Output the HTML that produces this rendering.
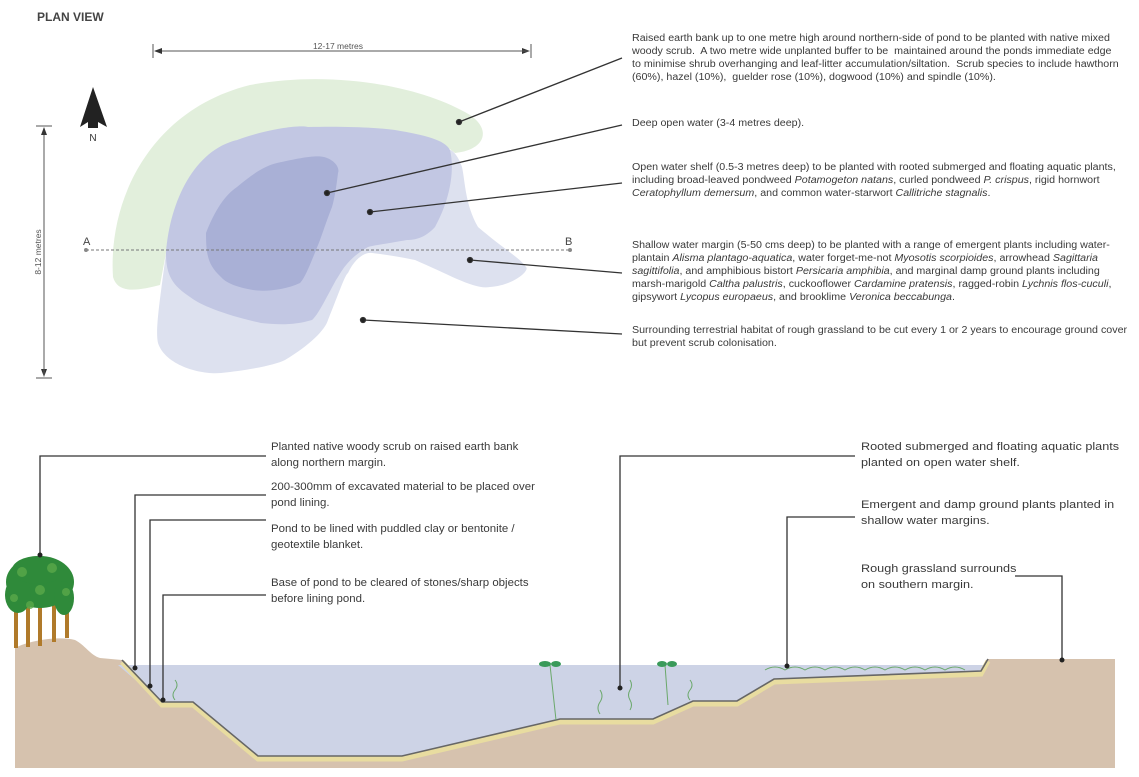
<!DOCTYPE html>
<html><head><meta charset="utf-8"><style>
body{margin:0;width:1139px;height:777px;background:#fff;position:relative;overflow:hidden;font-family:"Liberation Sans",Arial,sans-serif;color:#333}
.t{position:absolute;font-size:9.8px;line-height:12.9px;white-space:nowrap;color:#3a3a3a;transform:scaleX(1.09);transform-origin:0 0}
.s{position:absolute;font-size:11px;line-height:15.5px;white-space:nowrap;color:#3a3a3a;transform:scaleX(1.04);transform-origin:0 0}
.r{transform:scaleX(1.15)}
svg{position:absolute;left:0;top:0}
</style></head><body>
<svg width="1139" height="777" viewBox="0 0 1139 777">
<defs><marker id="ar" markerWidth="8" markerHeight="8" refX="7" refY="4" orient="auto"><path d="M0,1 L8,4 L0,7z" fill="#333"/></marker></defs>
<path d="M113,277 C108,200 150,110 250,85 C330,70 420,85 470,115 C492,130 485,150 455,153 L447,147 C400,125 300,120 237,140 C190,160 170,210 166,253 L160,285 C140,290 118,295 113,277Z" fill="#e2efdc"/>
<path d="M166,253 C160,300 155,330 158,343 C165,365 200,375 221,373 C250,370 275,365 285,360 C310,345 325,330 328,320 C340,290 345,275 348,273 C355,258 365,252 372,253 C390,255 405,258 415,260 C450,275 475,290 490,287 C515,285 530,270 526,267 C520,258 505,250 478,227 C465,205 465,180 462,167 C458,155 452,150 450,150 Z" fill="#dde1ef"/>
<path d="M166,253 C170,200 195,150 237,140 C270,128 300,125 308,127 C350,126 380,128 395,130 C425,135 445,140 450,150 C455,170 450,200 435,227 C425,238 415,240 407,240 C385,244 375,245 368,247 C345,260 340,275 336,280 C325,300 318,315 312,320 C295,325 280,325 261,323 C225,315 200,305 190,297 C172,285 166,275 166,253Z" fill="#c2c7e3"/>
<path d="M206,233 C215,210 225,195 237,187 C255,172 265,166 277,163 C300,158 315,155 324,157 C335,160 340,168 338,173 C336,190 334,200 332,207 C325,225 322,235 320,240 C310,265 305,278 300,283 C285,290 265,292 253,290 C235,287 225,282 221,277 C208,265 206,255 206,233Z" fill="#a9b0d6"/>
<line x1="86" y1="250" x2="570" y2="250" stroke="#777" stroke-width="1" stroke-dasharray="3,2"/>
<circle cx="86" cy="250" r="2" fill="#888"/><circle cx="570" cy="250" r="2" fill="#888"/>
<text x="83" y="245" font-size="11" fill="#444" font-family="Liberation Sans">A</text>
<text x="565" y="245" font-size="11" fill="#444" font-family="Liberation Sans">B</text>
<line x1="153" y1="44" x2="153" y2="58" stroke="#555"/><line x1="531" y1="44" x2="531" y2="58" stroke="#555"/>
<line x1="155" y1="51" x2="529" y2="51" stroke="#555" marker-end="url(#ar)"/>
<line x1="529" y1="51" x2="155" y2="51" stroke="#555" marker-end="url(#ar)"/>
<text x="338" y="49" font-size="8.5" fill="#555" text-anchor="middle" font-family="Liberation Sans">12-17 metres</text>
<line x1="36" y1="126" x2="52" y2="126" stroke="#555"/><line x1="36" y1="378" x2="52" y2="378" stroke="#555"/>
<line x1="44" y1="128" x2="44" y2="376" stroke="#555" marker-end="url(#ar)"/>
<line x1="44" y1="376" x2="44" y2="128" stroke="#555" marker-end="url(#ar)"/>
<text transform="translate(41,252) rotate(-90)" font-size="8.5" fill="#555" text-anchor="middle" font-family="Liberation Sans">8-12 metres</text>
<path d="M93,87 L80,127 L88,122 L88,128 L98,128 L98,122 L107,127Z" fill="#222"/>
<text x="93" y="141" font-size="10" fill="#333" text-anchor="middle" font-family="Liberation Sans">N</text>
<g stroke="#333" stroke-width="1.3" fill="#222">
<line x1="459" y1="122" x2="622" y2="58"/><circle cx="459" cy="122" r="2.5"/>
<line x1="327" y1="193" x2="622" y2="125"/><circle cx="327" cy="193" r="2.5"/>
<line x1="370" y1="212" x2="622" y2="183"/><circle cx="370" cy="212" r="2.5"/>
<line x1="470" y1="260" x2="622" y2="273"/><circle cx="470" cy="260" r="2.5"/>
<line x1="363" y1="320" x2="622" y2="334"/><circle cx="363" cy="320" r="2.5"/>
</g>
<path d="M15,768 L15,648 C30,640 60,636 75,640 C85,645 90,655 100,658 L122,660 L162,703 L193,703 L258,757 L402,757 L560,720 L653,720 L693,702 L737,702 L774,680 L981,672 L988,659 L1115,659 L1115,768Z" fill="#d6c2ae"/>
<path d="M118,665 L985,665 L981,672 L774,680 L737,702 L693,702 L653,720 L560,720 L402,757 L258,757 L193,703 L162,703Z" fill="#cdd3e6"/>
<polyline points="122,662 162,705 193,705 258,759 402,759 560,722 653,722 693,704 737,704 774,682 981,674 988,661" fill="none" stroke="#e8dca0" stroke-width="5"/>
<polyline points="122,660 162,702 193,702 258,756 402,756 560,719 653,719 693,701 737,701 774,679 981,671 988,659" fill="none" stroke="#666" stroke-width="1.6"/>
<g fill="#b07a2a"><rect x="14" y="600" width="4" height="48"/><rect x="26" y="605" width="4" height="42"/><rect x="38" y="598" width="4" height="48"/><rect x="52" y="602" width="4" height="40"/><rect x="65" y="598" width="4" height="40"/></g>
<g fill="#2f8a3a"><ellipse cx="40" cy="582" rx="34" ry="26"/><ellipse cx="18" cy="595" rx="13" ry="18"/><ellipse cx="64" cy="598" rx="10" ry="17"/><ellipse cx="38" cy="570" rx="26" ry="14"/></g>
<g fill="#5aa84a" opacity=".8"><circle cx="22" cy="572" r="5"/><circle cx="52" cy="568" r="5"/><circle cx="40" cy="590" r="5"/><circle cx="14" cy="598" r="4"/><circle cx="66" cy="592" r="4"/><circle cx="30" cy="605" r="4"/></g>
<g stroke="#6aa86a" stroke-width="1" fill="none">
<path d="M550,665 L556,720 M665,665 L668,705 M175,680 q4,5 0,10 q-4,5 0,10 M600,690 q4,6 0,12 q-4,6 0,12 M630,680 q3,5 0,10 q-3,5 0,10 q3,5 0,10 M690,680 q4,5 0,10 q-4,5 0,10"/>
<path d="M765,670 q10,-6 20,0 q10,-6 20,0 q10,-6 20,0 q10,-6 20,0 q10,-6 20,0 q10,-6 20,0 q10,-6 20,0 q10,-6 20,0 q10,-6 20,0 q10,-6 20,0"/>
</g>
<g fill="#3a9a5a"><ellipse cx="545" cy="664" rx="6" ry="3"/><ellipse cx="556" cy="664" rx="5" ry="3"/><ellipse cx="662" cy="664" rx="5" ry="3"/><ellipse cx="672" cy="664" rx="5" ry="3"/></g>
<g stroke="#333" stroke-width="1.3" fill="none">
<polyline points="266,456 40,456 40,555"/><polyline points="266,495 135,495 135,668"/><polyline points="266,520 150,520 150,686"/><polyline points="266,595 163,595 163,700"/>
<polyline points="855,456 620,456 620,688"/><polyline points="855,517 787,517 787,666"/><polyline points="1015,576 1062,576 1062,660"/>
</g>
<g fill="#222"><circle cx="40" cy="555" r="2.5"/><circle cx="135" cy="668" r="2.5"/><circle cx="150" cy="686" r="2.5"/><circle cx="163" cy="700" r="2.5"/><circle cx="620" cy="688" r="2.5"/><circle cx="787" cy="666" r="2.5"/><circle cx="1062" cy="660" r="2.5"/></g>
</svg>
<div style="position:absolute;left:37px;top:10px;font-size:12px;font-weight:bold;color:#444">PLAN VIEW</div>
<div class="t" style="left:632px;top:33px">Raised earth bank up to one metre high around northern-side of pond to be planted with native mixed<br>woody scrub.&nbsp; A two metre wide unplanted buffer to be&nbsp; maintained around the ponds immediate edge<br>to minimise shrub overhanging and leaf-litter accumulation/siltation.&nbsp; Scrub species to include hawthorn<br>(60%), hazel (10%),&nbsp; guelder rose (10%), dogwood (10%) and spindle (10%).</div>
<div class="t" style="left:632px;top:118px">Deep open water (3-4 metres deep).</div>
<div class="t" style="left:632px;top:162px">Open water shelf (0.5-3 metres deep) to be planted with rooted submerged and floating aquatic plants,<br>including broad-leaved pondweed <i>Potamogeton natans</i>, curled pondweed <i>P. crispus</i>, rigid hornwort<br><i>Ceratophyllum demersum</i>, and common water-starwort <i>Callitriche stagnalis</i>.</div>
<div class="t" style="left:632px;top:240px">Shallow water margin (5-50 cms deep) to be planted with a range of emergent plants including water-<br>plantain <i>Alisma plantago-aquatica</i>, water forget-me-not <i>Myosotis scorpioides</i>, arrowhead <i>Sagittaria<br>sagittifolia</i>, and amphibious bistort <i>Persicaria amphibia</i>, and marginal damp ground plants including<br>marsh-marigold <i>Caltha palustris</i>, cuckooflower <i>Cardamine pratensis</i>, ragged-robin <i>Lychnis flos-cuculi</i>,<br>gipsywort <i>Lycopus europaeus</i>, and brooklime <i>Veronica beccabunga</i>.</div>
<div class="t" style="left:632px;top:325px">Surrounding terrestrial habitat of rough grassland to be cut every 1 or 2 years to encourage ground cover<br>but prevent scrub colonisation.</div>
<div class="s" style="left:271px;top:440px">Planted native woody scrub on raised earth bank<br>along northern margin.</div>
<div class="s" style="left:271px;top:480px">200-300mm of excavated material to be placed over<br>pond lining.</div>
<div class="s" style="left:271px;top:522px">Pond to be lined with puddled clay or bentonite /<br>geotextile blanket.</div>
<div class="s" style="left:271px;top:576px">Base of pond to be cleared of stones/sharp objects<br>before lining pond.</div>
<div class="s r" style="left:861px;top:440px">Rooted submerged and floating aquatic plants<br>planted on open water shelf.</div>
<div class="s r" style="left:861px;top:498px">Emergent and damp ground plants planted in<br>shallow water margins.</div>
<div class="s r" style="left:861px;top:562px">Rough grassland surrounds<br>on southern margin.</div>
</body></html>
